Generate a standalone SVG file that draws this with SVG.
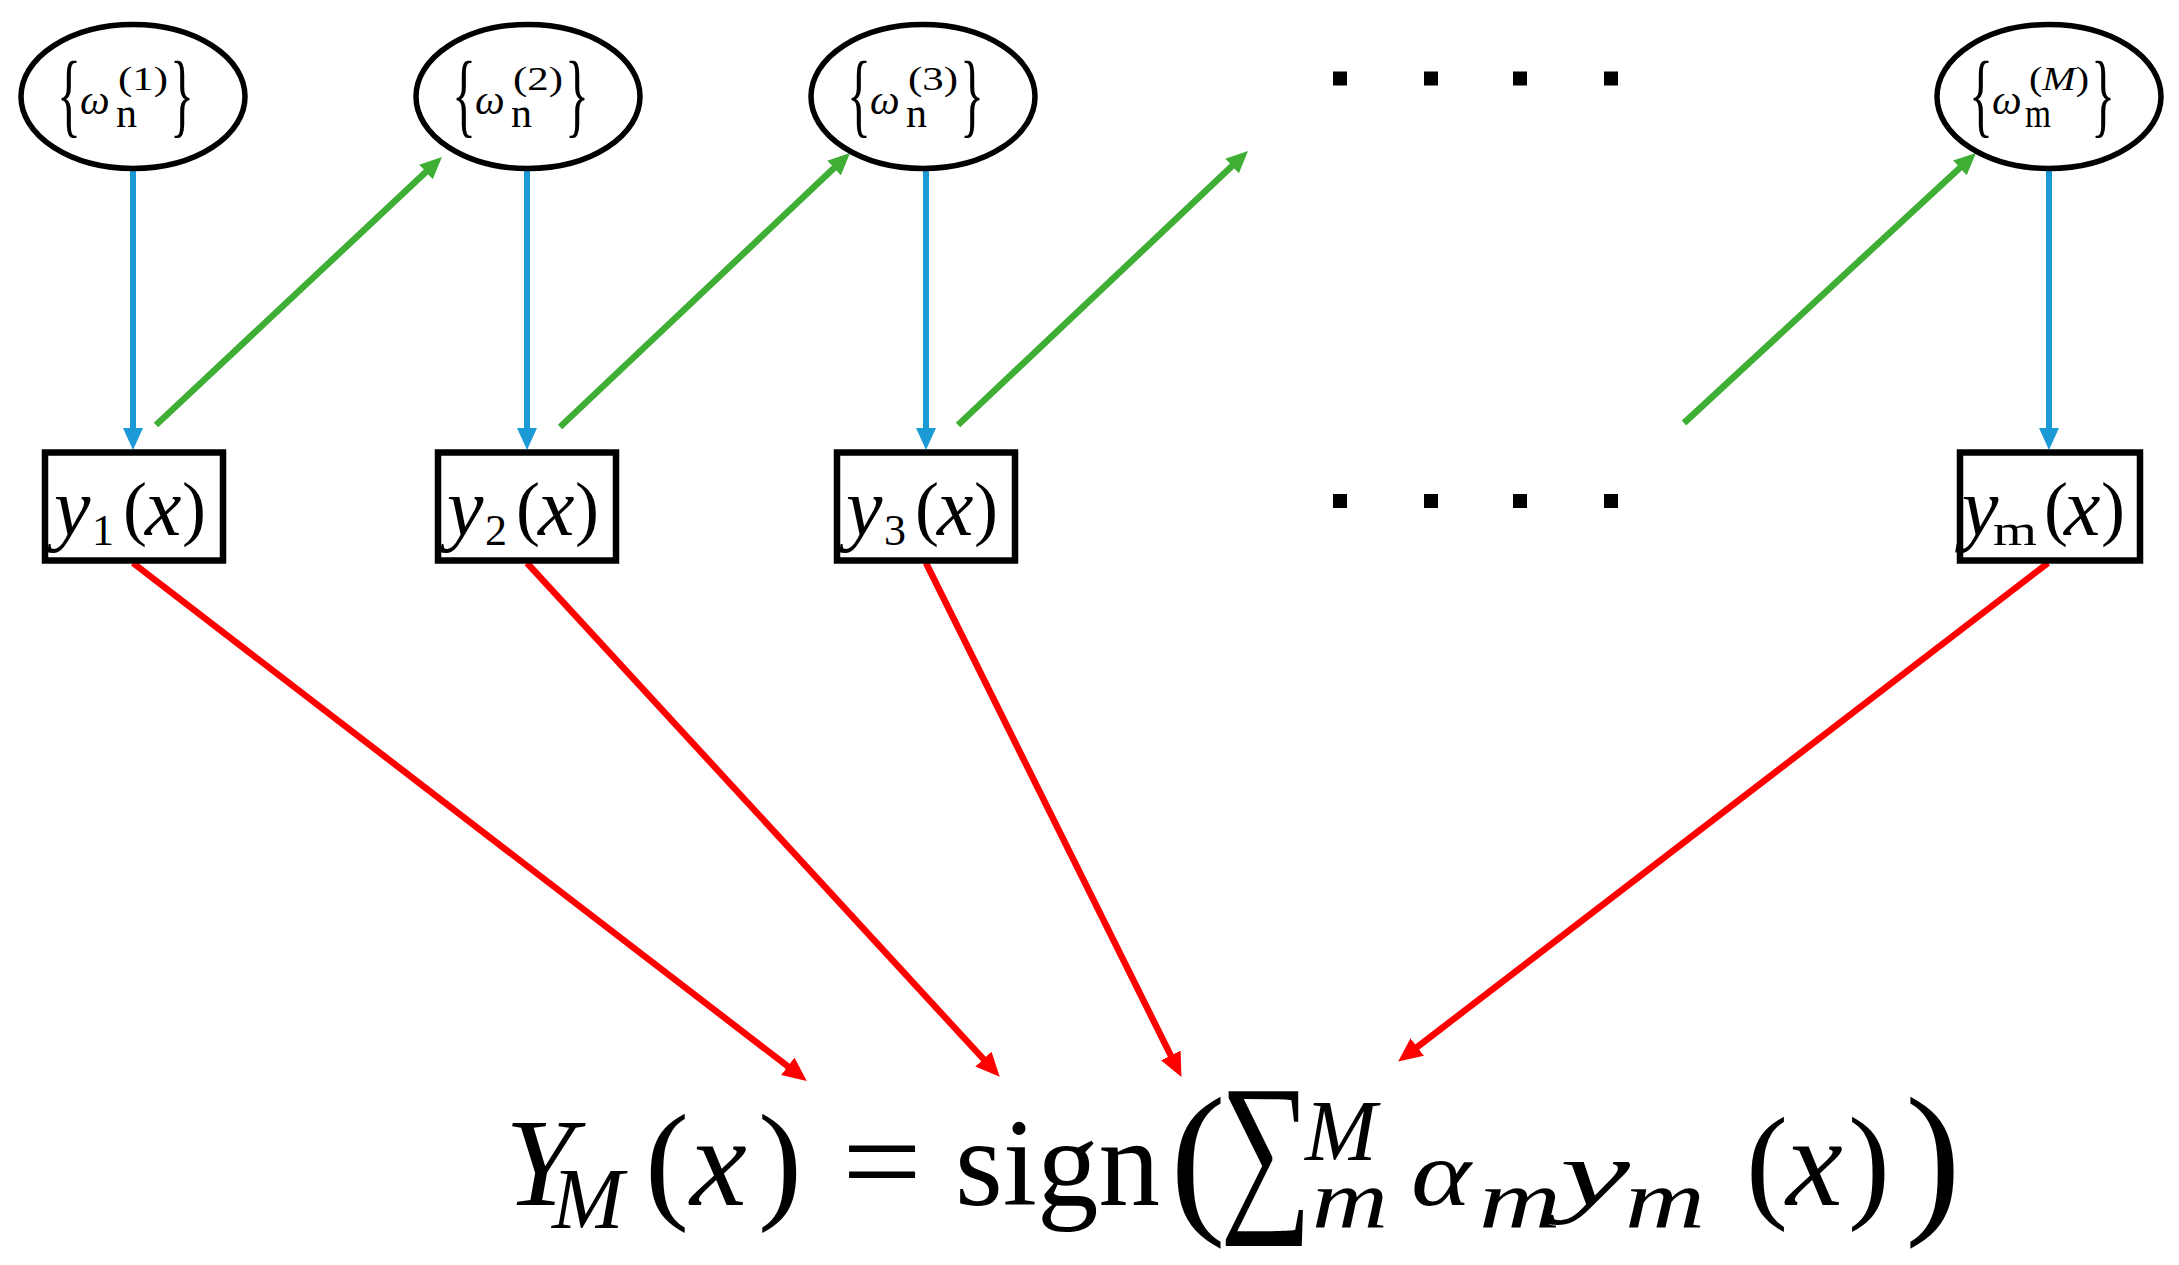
<svg xmlns="http://www.w3.org/2000/svg" width="2179" height="1265" viewBox="0 0 2179 1265">
<style>
.ell{fill:#fff;stroke:#000;stroke-width:5.5}
.box{fill:#fff;stroke:#000;stroke-width:6.5}
.t{font-family:"Liberation Serif",serif;fill:#000}
.it{font-style:italic}
.blue{stroke:#1b9ad6;stroke-width:6;fill:none}
.green{stroke:#3fae34;stroke-width:6.5;fill:none}
.red{stroke:#ff0000;stroke-width:6.5;fill:none}
.dot{fill:#000}
</style>
<defs>
<marker id="hb" markerUnits="userSpaceOnUse" markerWidth="24" markerHeight="22" refX="10" refY="10" orient="auto"><path d="M0,0 L22,10 L0,20 z" fill="#1b9ad6"/></marker>
<marker id="hg" markerUnits="userSpaceOnUse" markerWidth="24" markerHeight="22" refX="10" refY="10" orient="auto"><path d="M0,0 L22,10 L0,20 z" fill="#3fae34"/></marker>
<marker id="hr" markerUnits="userSpaceOnUse" markerWidth="26" markerHeight="24" refX="10" refY="11" orient="auto"><path d="M0,0 L24,11 L0,22 z" fill="#ff0000"/></marker>
</defs>
<rect width="2179" height="1265" fill="#fff"/>

<g id="connectors">
<line class="blue" x1="133" y1="170" x2="133" y2="438" marker-end="url(#hb)"/>
<line class="blue" x1="527" y1="170" x2="527" y2="438" marker-end="url(#hb)"/>
<line class="blue" x1="926" y1="170" x2="926" y2="438" marker-end="url(#hb)"/>
<line class="blue" x1="2049" y1="170" x2="2049" y2="438" marker-end="url(#hb)"/>
<line class="green" x1="156" y1="425" x2="433.2" y2="165.2" marker-end="url(#hg)"/>
<line class="green" x1="560" y1="427" x2="841.3" y2="161.2" marker-end="url(#hg)"/>
<line class="green" x1="958" y1="425" x2="1239.3" y2="159.2" marker-end="url(#hg)"/>
<line class="green" x1="1684" y1="423" x2="1967.2" y2="161.1" marker-end="url(#hg)"/>
<line class="red" x1="133" y1="563" x2="795.7" y2="1072.4" marker-end="url(#hr)"/>
<line class="red" x1="527" y1="563" x2="990.2" y2="1066.4" marker-end="url(#hr)"/>
<line class="red" x1="926" y1="563" x2="1175.2" y2="1064.4" marker-end="url(#hr)"/>
<line class="red" x1="2048" y1="563" x2="1409.3" y2="1053.1" marker-end="url(#hr)"/>
</g>

<g id="w1" transform="translate(133,0)">
<ellipse class="ell" cx="0" cy="96.5" rx="112" ry="72"/>
<text class="t"><tspan x="-76" y="126" font-size="93" textLength="24" lengthAdjust="spacingAndGlyphs">{</tspan><tspan class="it" x="-53" y="114" font-size="42">ω</tspan><tspan x="-17" y="127" font-size="42">n</tspan><tspan x="-15" y="90" font-size="34" textLength="50" lengthAdjust="spacingAndGlyphs">(1)</tspan><tspan x="37" y="126" font-size="93" textLength="24" lengthAdjust="spacingAndGlyphs">}</tspan></text>
</g>
<g id="w2" transform="translate(528,0)">
<ellipse class="ell" cx="0" cy="96.5" rx="112" ry="72"/>
<text class="t"><tspan x="-76" y="126" font-size="93" textLength="24" lengthAdjust="spacingAndGlyphs">{</tspan><tspan class="it" x="-53" y="114" font-size="42">ω</tspan><tspan x="-17" y="127" font-size="42">n</tspan><tspan x="-15" y="90" font-size="34" textLength="50" lengthAdjust="spacingAndGlyphs">(2)</tspan><tspan x="37" y="126" font-size="93" textLength="24" lengthAdjust="spacingAndGlyphs">}</tspan></text>
</g>
<g id="w3" transform="translate(923,0)">
<ellipse class="ell" cx="0" cy="96.5" rx="112" ry="72"/>
<text class="t"><tspan x="-76" y="126" font-size="93" textLength="24" lengthAdjust="spacingAndGlyphs">{</tspan><tspan class="it" x="-53" y="114" font-size="42">ω</tspan><tspan x="-17" y="127" font-size="42">n</tspan><tspan x="-15" y="90" font-size="34" textLength="50" lengthAdjust="spacingAndGlyphs">(3)</tspan><tspan x="37" y="126" font-size="93" textLength="24" lengthAdjust="spacingAndGlyphs">}</tspan></text>
</g>
<g id="wM" transform="translate(2049,0)">
<ellipse class="ell" cx="0" cy="96.5" rx="112" ry="72"/>
<text class="t"><tspan x="-80" y="126" font-size="93" textLength="24" lengthAdjust="spacingAndGlyphs">{</tspan><tspan class="it" x="-57" y="114" font-size="42">ω</tspan><tspan x="-24" y="127" font-size="40" textLength="26" lengthAdjust="spacingAndGlyphs">m</tspan><tspan x="-20" y="90" font-size="34" textLength="60" lengthAdjust="spacingAndGlyphs">(<tspan class="it">M</tspan>)</tspan><tspan x="42" y="126" font-size="93" textLength="24" lengthAdjust="spacingAndGlyphs">}</tspan></text>
</g>

<g id="y1" transform="translate(134,0)">
<rect class="box" x="-89" y="452.5" width="178" height="108"/>
<text class="t"><tspan class="it" x="-80" y="535" font-size="82">y</tspan><tspan x="-42" y="545" font-size="44">1</tspan><tspan x="-11" y="532" font-size="72">(</tspan><tspan class="it" x="11" y="535" font-size="82">x</tspan><tspan x="48" y="532" font-size="72">)</tspan></text>
</g>
<g id="y2" transform="translate(527,0)">
<rect class="box" x="-89" y="452.5" width="178" height="108"/>
<text class="t"><tspan class="it" x="-80" y="535" font-size="82">y</tspan><tspan x="-42" y="545" font-size="44">2</tspan><tspan x="-11" y="532" font-size="72">(</tspan><tspan class="it" x="11" y="535" font-size="82">x</tspan><tspan x="48" y="532" font-size="72">)</tspan></text>
</g>
<g id="y3" transform="translate(926,0)">
<rect class="box" x="-89" y="452.5" width="178" height="108"/>
<text class="t"><tspan class="it" x="-80" y="535" font-size="82">y</tspan><tspan x="-42" y="545" font-size="44">3</tspan><tspan x="-11" y="532" font-size="72">(</tspan><tspan class="it" x="11" y="535" font-size="82">x</tspan><tspan x="48" y="532" font-size="72">)</tspan></text>
</g>
<g id="ym" transform="translate(2050,0)">
<rect class="box" x="-90" y="452.5" width="180" height="108"/>
<text class="t"><tspan class="it" x="-88" y="535" font-size="82">y</tspan><tspan x="-57" y="545" font-size="44" textLength="44" lengthAdjust="spacingAndGlyphs">m</tspan><tspan x="-6" y="532" font-size="72">(</tspan><tspan class="it" x="14" y="535" font-size="82">x</tspan><tspan x="51" y="532" font-size="72">)</tspan></text>
</g>

<g id="ellipsis">
<rect class="dot" x="1333" y="71.5" width="14" height="14"/>
<rect class="dot" x="1424" y="71.5" width="14" height="14"/>
<rect class="dot" x="1513" y="71.5" width="14" height="14"/>
<rect class="dot" x="1604" y="71.5" width="14" height="14"/>
<rect class="dot" x="1333" y="494" width="14" height="14"/>
<rect class="dot" x="1424" y="494" width="14" height="14"/>
<rect class="dot" x="1513" y="494" width="14" height="14"/>
<rect class="dot" x="1604" y="494" width="14" height="14"/>
</g>

<g id="formula">
<text class="t"><tspan class="it" x="505" y="1205" font-size="125">Y</tspan><tspan class="it" x="552" y="1228" font-size="86">M</tspan><tspan x="645" y="1205" font-size="132">(</tspan><tspan class="it" x="690" y="1205" font-size="128">x</tspan><tspan x="758" y="1205" font-size="132">)</tspan><tspan x="842" y="1205" font-size="130" textLength="80" lengthAdjust="spacingAndGlyphs">=</tspan><tspan x="955" y="1205" font-size="125" textLength="205" lengthAdjust="spacingAndGlyphs">sign</tspan><tspan x="1170" y="1213" font-size="168">(</tspan><tspan x="1220" y="1208" font-size="178" textLength="92" lengthAdjust="spacingAndGlyphs">∑</tspan><tspan class="it" x="1305" y="1160" font-size="86">M</tspan><tspan class="it" x="1312" y="1227" font-size="82" textLength="76" lengthAdjust="spacingAndGlyphs">m</tspan><tspan class="it" x="1411" y="1205" font-size="94" textLength="60" lengthAdjust="spacingAndGlyphs">α</tspan><tspan class="it" x="1479" y="1227" font-size="82" textLength="82" lengthAdjust="spacingAndGlyphs">m</tspan><tspan class="it" x="1560" y="1205" font-size="94" textLength="70" lengthAdjust="spacingAndGlyphs">y</tspan><tspan class="it" x="1625" y="1227" font-size="82" textLength="80" lengthAdjust="spacingAndGlyphs">m</tspan><tspan x="1746" y="1205" font-size="126">(</tspan><tspan class="it" x="1786" y="1205" font-size="128">x</tspan><tspan x="1848" y="1205" font-size="126">)</tspan><tspan x="1905" y="1213" font-size="168">)</tspan></text>
</g>
</svg>
